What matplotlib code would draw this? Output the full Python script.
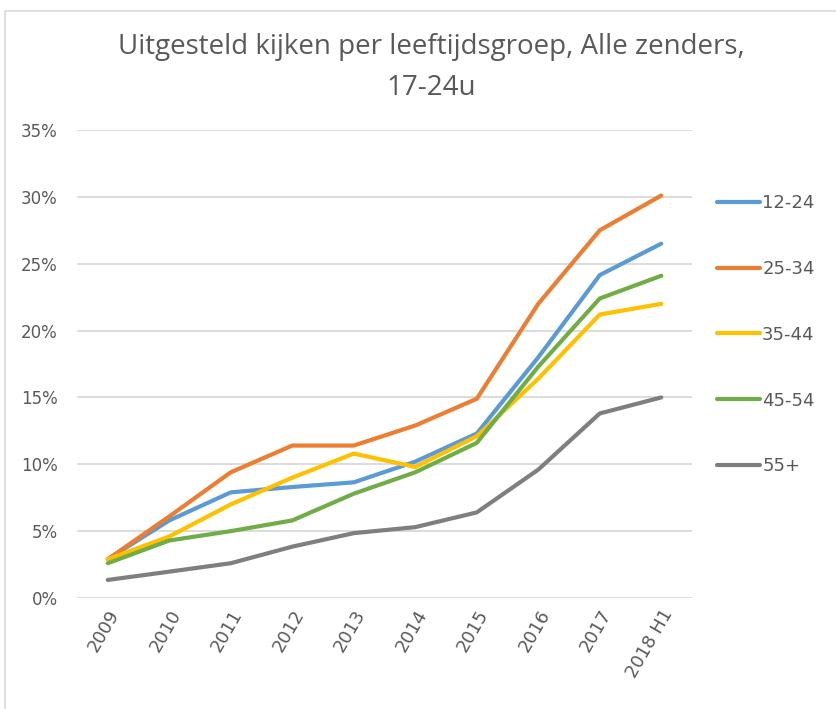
import matplotlib
matplotlib.use("Agg")
import matplotlib.pyplot as plt
from matplotlib.patches import Rectangle
from matplotlib.ticker import FuncFormatter

categories = ["2009", "2010", "2011", "2012", "2013", "2014", "2015", "2016", "2017", "2018 H1"]
s_12_24 = [2.9, 5.8, 7.9, 8.3, 8.65, 10.2, 12.3, 18.0, 24.15, 26.5]
s_25_34 = [2.9, 6.1, 9.4, 11.4, 11.4, 12.9, 14.9, 22.0, 27.5, 30.1]
s_35_44 = [2.9, 4.6, 7.0, 9.0, 10.8, 9.8, 12.1, 16.4, 21.2, 22.0]
s_45_54 = [2.6, 4.3, 5.0, 5.8, 7.8, 9.4, 11.6, 17.3, 22.4, 24.1]
s_55 = [1.35, 1.97, 2.6, 3.84, 4.85, 5.3, 6.4, 9.6, 13.8, 15.0]
labels = ["12-24", "25-34", "35-44", "45-54", "55+"]
series = [s_12_24, s_25_34, s_35_44, s_45_54, s_55]
colors = ["#5B9BD5", "#ED7D31", "#FFC000", "#70AD47", "#7F7F7F"]

W, H = 837, 709
fig = plt.figure(figsize=(W / 100, H / 100), dpi=100)
fig.patch.set_facecolor("white")
ax = fig.add_axes([77 / W, 1 - 598 / H, (692 - 77) / W, (598 - 130) / H])

x = list(range(len(categories)))
for vals, lab, col in zip(series, labels, colors):
    ax.plot(x, [v / 100 for v in vals], color=col, lw=3.0, label=lab,
            solid_capstyle="round", solid_joinstyle="round", zorder=3)

ax.set_xlim(-0.5, len(categories) - 0.5)
ax.set_ylim(0, 0.35)
ax.set_yticks([i * 0.05 for i in range(8)])
ax.yaxis.set_major_formatter(FuncFormatter(lambda v, p: f"{v * 100:.0f}%"))
ax.set_xticks(x)
ax.set_xticklabels(categories, rotation=60, ha="right", rotation_mode="anchor")
ax.grid(axis="y", color="#D9D9D9", lw=1.3, zorder=0)
ax.set_axisbelow(True)
for sp in ax.spines.values():
    sp.set_visible(False)
ax.tick_params(axis="both", length=0, colors="#595959")
ax.tick_params(axis="y", pad=14, labelsize=12)
ax.tick_params(axis="x", pad=6, labelsize=13)

fig.text(431 / W, 1 - 47 / H, "Uitgesteld kijken per leeftijdsgroep, Alle zenders,",
         ha="center", va="center", fontsize=20, color="#595959", family="Open Sans")
fig.text(431 / W, 1 - 88 / H, "17-24u", ha="center", va="center",
         fontsize=20, color="#595959", family="Open Sans")

leg = fig.legend(loc="upper left", bbox_to_anchor=(708 / W, 1 - 185 / H),
                 frameon=False, fontsize=13, labelspacing=2.65,
                 handlelength=2.4, handletextpad=0.1, borderpad=0)
for t in leg.get_texts():
    t.set_color("#595959")

fig.patches.append(Rectangle((5 / W, -0.05), 1.1, 1 - 11 / H + 0.05,
                             transform=fig.transFigure, fill=False,
                             edgecolor="#D9D9D9", lw=1.2))

fig.savefig("out.png", dpi=100)
